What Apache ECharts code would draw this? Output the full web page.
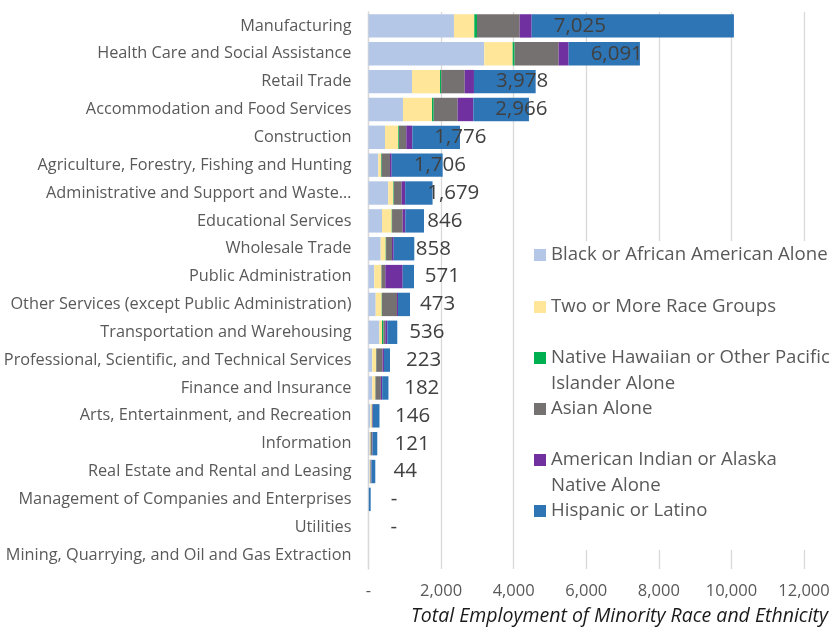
<!DOCTYPE html>
<html>
<head>
<meta charset="utf-8">
<script src="https://cdn.jsdelivr.net/npm/echarts@6/dist/echarts.min.js"></script>
<style>
  html, body { margin: 0; padding: 0; background: #fff; }
  #chart { width: 839px; height: 630px; }
</style>
</head>
<body>
<div id="chart"></div>
<script>
  // industries, top to bottom
  var industries = [
    'Manufacturing',
    'Health Care and Social Assistance',
    'Retail Trade',
    'Accommodation and Food Services',
    'Construction',
    'Agriculture, Forestry, Fishing and Hunting',
    'Administrative and Support and Waste\u2026',
    'Educational Services',
    'Wholesale Trade',
    'Public Administration',
    'Other Services (except Public Administration)',
    'Transportation and Warehousing',
    'Professional, Scientific, and Technical Services',
    'Finance and Insurance',
    'Arts, Entertainment, and Recreation',
    'Information',
    'Real Estate and Rental and Leasing',
    'Management of Companies and Enterprises',
    'Utilities',
    'Mining, Quarrying, and Oil and Gas Extraction'
  ]

  var black    = [2355, 3190, 1198, 950, 455, 270, 545, 372, 336, 160, 198, 298, 105, 105, 50, 30, 30, 10, 0, 0]
  var twoMore  = [560, 782, 772, 799, 366, 74, 138, 267, 138, 193, 166, 74, 102, 82, 40, 25, 20, 0, 0, 0]
  var hawaiian = [74, 55, 35, 47, 19, 19, 15, 10, 10, 5, 8, 36, 8, 5, 3, 2, 2, 0, 0, 0]
  var asian    = [1176, 1213, 645, 661, 201, 229, 213, 293, 163, 105, 413, 55, 173, 149, 20, 45, 20, 0, 0, 0]
  var amIndian = [331, 275, 256, 430, 166, 47, 99, 72, 47, 479, 27, 55, 38, 36, 10, 10, 10, 0, 0, 0]
  var hispanic = [5573, 1964, 1700, 1534, 1314, 1405, 755, 515, 568, 311, 331, 275, 166, 173, 180, 130, 105, 50, 0, 0]

  // numbers printed next to each bar (null = no label)
  var barLabels = [7025, 6091, 3978, 2966, 1776, 1706, 1679, 846, 858, 571, 473, 536, 223, 182, 146, 121, 44, 0, 0, null]

  var seriesNames = [
    'Black or African American Alone',
    'Two or More Race Groups',
    'Native Hawaiian or Other Pacific Islander Alone',
    'Asian Alone',
    'American Indian or Alaska Native Alone',
    'Hispanic or Latino'
  ]
  var seriesColors = ['#B4C7E7', '#FFE699', '#00B050', '#767171', '#7030A0', '#2E75B6']
  var seriesData = [black, twoMore, hawaiian, asian, amIndian, hispanic]

  var FONT = 'Open Sans'

  function fmt (v) {
    if (v === null || v === undefined) return ''
    if (v === 0) return '-'
    return v.toLocaleString('en-US')
  }

  var series = seriesNames.map(function (name, i) {
    var s = {
      name: name,
      type: 'bar',
      stack: 'total',
      barCategoryGap: '16%',
      itemStyle: { color: seriesColors[i] },
      emphasis: { disabled: true },
      animation: false,
      data: seriesData[i]
    }
    if (i === seriesNames.length - 1) {
      s.label = {
        show: true,
        position: [22, '50%'],
        align: 'left',
        verticalAlign: 'middle',
        fontFamily: FONT,
        fontSize: 20.5,
        color: '#404040',
        formatter: function (p) { return fmt(barLabels[p.dataIndex]) }
      }
    }
    return s
  })

  // legend: one component per entry so each can sit where Excel put it.
  // two-line entries use a tall icon whose square sits at the top,
  // so the marker lines up with the first line of text
  var legendTops = [242, 294, 345, 396, 447, 498]
  var legendText = [
    'Black or African American Alone',
    'Two or More Race Groups',
    'Native Hawaiian or Other Pacific\nIslander Alone',
    'Asian Alone',
    'American Indian or Alaska\nNative Alone',
    'Hispanic or Latino'
  ]
  var legends = seriesNames.map(function (name, i) {
    var twoLine = legendText[i].indexOf('\n') >= 0
    return {
      data: [name],
      left: 534,
      top: legendTops[i],
      padding: 0,
      itemWidth: 12,
      itemHeight: twoLine ? 38 : 12,
      icon: twoLine ? 'path://M0,0L12,0L12,12L0,12Z M0,38L0,38' : 'rect',
      selectedMode: false,
      formatter: function () { return legendText[i] },
      textStyle: {
        fontFamily: FONT,
        fontSize: 18.6,
        color: '#595959',
        lineHeight: 26
      }
    }
  })

  var option = {
    backgroundColor: '#fff',
    animation: false,
    title: {
      text: 'Total Employment of Minority Race and Ethnicity',
      right: 11,
      top: 606,
      padding: 0,
      textStyle: {
        fontFamily: FONT,
        fontSize: 19.5,
        fontStyle: 'italic',
        fontWeight: 'normal',
        color: '#1a1a1a'
      }
    },
    grid: { left: 368.5, right: 35, top: 12, bottom: 61 },
    legend: legends,
    graphic: [{
      type: 'rect',
      z: 1,
      shape: { x: 516, y: 241, width: 323, height: 309 },
      style: { fill: '#fff' }
    }],
    xAxis: {
      type: 'value',
      min: 0,
      max: 12000,
      interval: 2000,
      axisLine: { show: false },
      axisTick: { show: false },
      splitLine: { lineStyle: { color: '#D9D9D9', width: 1.3 } },
      axisLabel: {
        margin: 14,
        fontFamily: FONT,
        fontSize: 16.5,
        color: '#595959',
        formatter: function (v) { return fmt(v) }
      }
    },
    yAxis: {
      type: 'category',
      inverse: true,
      data: industries,
      axisLine: { show: true, lineStyle: { color: '#D9D9D9', width: 1.3 } },
      axisTick: { show: false },
      axisLabel: {
        margin: 17,
        fontFamily: FONT,
        fontSize: 16.3,
        color: '#595959'
      }
    },
    series: series
  }

  var chart = echarts.init(document.getElementById('chart'), null, { renderer: 'canvas' })
  chart.setOption(option)
</script>
</body>
</html>
